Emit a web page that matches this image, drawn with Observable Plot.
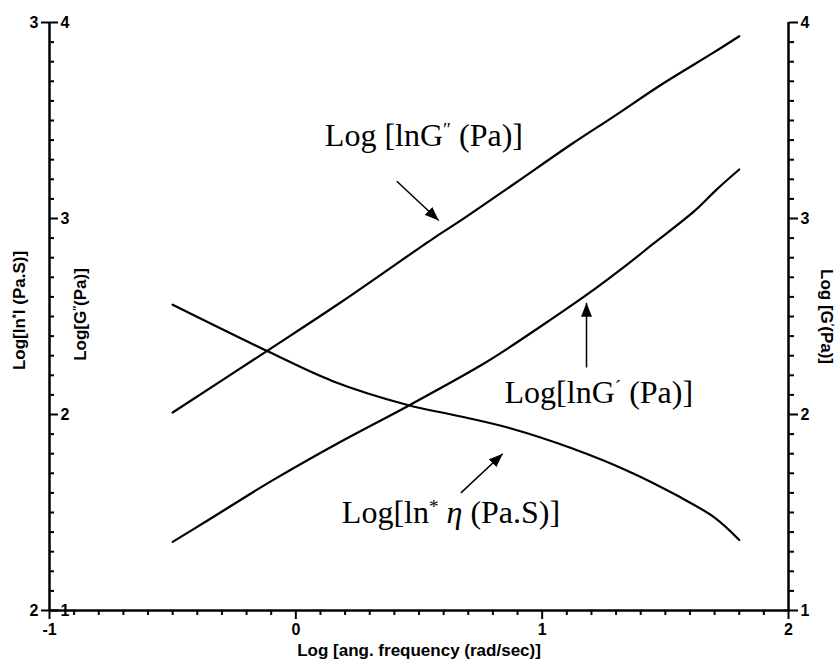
<!DOCTYPE html>
<html>
<head>
<meta charset="utf-8">
<script src="https://cdn.jsdelivr.net/npm/d3@7"></script>
<script src="https://cdn.jsdelivr.net/npm/@observablehq/plot@0.6"></script>
<style>
  html, body { margin: 0; padding: 0; background: #fff; }
</style>
</head>
<body>
<div id="chart"></div>
<script>
// Axis ticks
const freqTicks = [-1, 0, 1, 2];
const modulusTicks = [1, 2, 3, 4];
const viscosityTicks = [2, 3];

// Log G'' (loss modulus) vs log angular frequency
const lossX = [-0.5, -0.11, 0.18, 0.56, 0.67, 0.89, 1.12, 1.29, 1.48, 1.70, 1.80];
const lossY = [2.01, 2.33, 2.57, 2.90, 2.99, 3.18, 3.38, 3.52, 3.68, 3.85, 3.93];

// Log G' (storage modulus)
const storageX = [-0.5, -0.37, -0.10, 0.18, 0.45, 0.75, 0.87, 1.03, 1.18, 1.35, 1.45, 1.62, 1.71, 1.80];
const storageY = [1.35, 1.45, 1.66, 1.86, 2.04, 2.25, 2.345, 2.48, 2.61, 2.77, 2.87, 3.04, 3.15, 3.25];

// Log |eta*| (complex viscosity), read on the outer left axis (2..3)
const viscX = [-0.5, -0.11, 0.15, 0.45, 0.67, 0.87, 1.12, 1.35, 1.55, 1.70, 1.80];
const viscY = [2.52, 2.44, 2.39, 2.35, 2.33, 2.31, 2.276, 2.237, 2.195, 2.158, 2.12];

// Curve annotations
const noteText = ["Log [lnG″ (Pa)]", "Log[lnG´ (Pa)]", "Log[ln* η (Pa.S)]"];
const noteX = [0.52, 1.23, 0.63];
const noteY = [3.42, 2.11, 1.50];
const arrowX1 = [0.41, 1.18, 0.67];
const arrowY1 = [3.19, 2.24, 1.60];
const arrowX2 = [0.58, 1.18, 0.84];
const arrowY2 = [2.99, 2.57, 1.80];

// The viscosity axis (2..3) shares the full height of the modulus axis (1..4)
const toModulus = v => 1 + (v - 2) * 3;
const fromModulus = m => 2 + (m - 1) / 3;

const xDomain = [freqTicks[0], freqTicks[freqTicks.length - 1]];
const yDomain = [modulusTicks[0], modulusTicks[modulusTicks.length - 1]];

const freqMinor = d3.range(xDomain[0] * 10, xDomain[1] * 10 + 1).map(i => i / 10).filter(v => !Number.isInteger(v));
const modulusMinor = d3.range(yDomain[0] * 10, yDomain[1] * 10 + 1).map(i => i / 10).filter(v => !Number.isInteger(v));

const rows = [
  ...lossX.map((x, i) => ({series: "G''", x, y: lossY[i]})),
  ...storageX.map((x, i) => ({series: "G'", x, y: storageY[i]})),
  ...viscX.map((x, i) => ({series: "eta", x, y: toModulus(viscY[i])}))
];

const notes = noteText.map((text, i) => ({text, x: noteX[i], y: noteY[i]}));
const arrows = arrowX1.map((x1, i) => ({x1, y1: arrowY1[i], x2: arrowX2[i], y2: arrowY2[i]}));

// Solid triangular arrowhead
function solidHead(color) {
  const m = d3.create("svg:marker")
    .attr("viewBox", "-14 -6 14 12")
    .attr("markerWidth", 14)
    .attr("markerHeight", 12)
    .attr("markerUnits", "userSpaceOnUse")
    .attr("refX", 0)
    .attr("refY", 0)
    .attr("orient", "auto");
  m.append("path").attr("d", "M-14,-5.5L0,0L-14,5.5Z").attr("fill", color).attr("stroke", "none");
  return m.node();
}

const fmt = d => String(d);
const tickFont = {fontSize: 16, fontWeight: "bold"};
const titleFont = {fontSize: 17, fontWeight: "bold", textAnchor: "middle"};

const chart = Plot.plot({
  width: 835,
  height: 666,
  marginLeft: 49,
  marginRight: 47,
  marginTop: 22,
  marginBottom: 56,
  style: {fontFamily: "'Liberation Sans', Arial, sans-serif", fontSize: "14px", fontWeight: "bold", background: "#fff", color: "#000"},
  x: {domain: xDomain, axis: null},
  y: {domain: yDomain, axis: null},
  marks: [
    // Axis lines
    Plot.ruleX(xDomain, {stroke: "#000", strokeWidth: 2.5}),
    Plot.ruleY([yDomain[0]], {stroke: "#000", strokeWidth: 2.5}),

    // Bottom axis
    Plot.axisX(freqMinor, {anchor: "bottom", tickSize: 5, strokeWidth: 2, fill: "none", label: null}),
    Plot.axisX(freqTicks, {anchor: "bottom", tickSize: 9, tickPadding: 4, strokeWidth: 2, tickFormat: fmt, label: null, ...tickFont}),

    // Left inner axis (G''), ticks pointing into the plot
    Plot.axisY(modulusMinor, {anchor: "left", tickSize: 5, dx: 5, strokeWidth: 2, fill: "none", label: null}),
    Plot.axisY(modulusTicks, {anchor: "left", tickSize: 9, dx: 9, strokeWidth: 2, fill: "none", label: null}),
    Plot.axisY(modulusTicks, {anchor: "left", tickSize: 0, tickPadding: 0, dx: 11, textAnchor: "start", tickFormat: fmt, label: null, ...tickFont}),

    // Left outer axis (|eta*|)
    Plot.axisY(viscosityTicks.map(toModulus), {anchor: "left", tickSize: 8, tickPadding: 3, strokeWidth: 2, tickFormat: m => String(Math.round(fromModulus(m))), label: null, ...tickFont}),

    // Right axis (G')
    Plot.axisY(modulusMinor, {anchor: "right", tickSize: 5, strokeWidth: 2, fill: "none", label: null}),
    Plot.axisY(modulusTicks, {anchor: "right", tickSize: 9, tickPadding: 3, strokeWidth: 2, tickFormat: fmt, label: null, ...tickFont}),

    // Axis titles
    Plot.text(["Log [ang. frequency (rad/sec)]"], {frameAnchor: "bottom", dy: 45, ...titleFont}),
    Plot.text(["Log[In*I (Pa.S)]"], {frameAnchor: "left", dx: -30, dy: -6, rotate: -90, ...titleFont}),
    Plot.text(["Log[G″(Pa)]"], {frameAnchor: "left", dx: 31, dy: -2, rotate: -90, ...titleFont}),
    Plot.text(["Log [G′(Pa)]"], {frameAnchor: "right", dx: 38, dy: 0, rotate: 90, ...titleFont}),

    // Curves
    Plot.line(rows, {x: "x", y: "y", z: "series", curve: "catmull-rom", stroke: "#000", strokeWidth: 2.2}),

    // Annotations
    Plot.link(arrows, {x1: "x1", y1: "y1", x2: "x2", y2: "y2", stroke: "#000", strokeWidth: 1.5, markerEnd: solidHead}),
    Plot.text(notes, {x: "x", y: "y", text: "text", fontFamily: "'Liberation Serif', 'Times New Roman', serif", fontSize: 32, fontWeight: "normal"})
  ]
});

// Superscript primes / asterisks and italic eta inside labels
const SVGNS = "http://www.w3.org/2000/svg";
chart.querySelectorAll("text").forEach(node => {
  if (node.querySelector("tspan")) return;
  const s = node.textContent;
  if (!/[″′´*η]/.test(s)) return;
  node.textContent = "";
  for (const part of s.match(/[″′´*]+|η|[^″′´*η]+/g)) {
    const t = document.createElementNS(SVGNS, "tspan");
    t.textContent = part;
    if (/^[″′´*]/.test(part)) {
      t.setAttribute("baseline-shift", "super");
      t.setAttribute("font-size", "60%");
    }
    if (part === "η") t.setAttribute("font-style", "italic");
    node.appendChild(t);
  }
});

document.getElementById("chart").appendChild(chart);
</script>
</body>
</html>
